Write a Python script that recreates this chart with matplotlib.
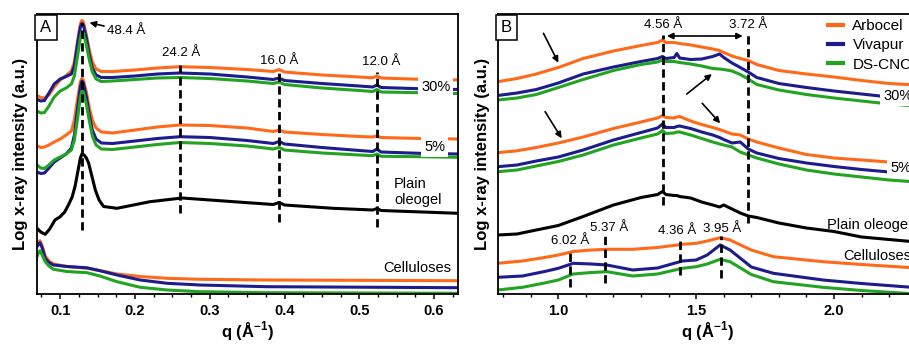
import numpy as np
import matplotlib
matplotlib.use('Agg')
import matplotlib.pyplot as plt

plt.rcParams['font.family'] = ['Liberation Sans', 'DejaVu Sans']
plt.rcParams['mathtext.fontset'] = 'custom'
plt.rcParams['mathtext.rm'] = 'Liberation Sans'
plt.rcParams['mathtext.bf'] = 'Liberation Sans:bold'

ORANGE = '#ff6a1a'
NAVY = '#1c1c8c'
GREEN = '#22a322'
names = ['Arbocel', 'Vivapur', 'DS-CNC']
colors = [ORANGE, NAVY, GREEN]

# ---------------- panel A (small angle), stacked log intensity, a.u.
qa = [0.069, 0.074, 0.079, 0.085, 0.092, 0.100, 0.108, 0.115, 0.119, 0.123,
      0.127, 0.129, 0.131, 0.135, 0.139, 0.143, 0.148, 0.155, 0.17, 0.20,
      0.23, 0.26, 0.30, 0.35, 0.385, 0.3927, 0.40, 0.45, 0.50, 0.518,
      0.5236, 0.529, 0.58, 0.632]
a30_arbocel = [198.5, 196.5, 196, 199, 207, 214, 218.5, 223, 232, 252, 270, 273.5, 272, 259, 244, 232, 225,
               222.5, 222.5, 224, 226, 227.3, 226.5, 224.5, 222.5, 224.5, 222, 219, 217, 216.2, 218, 216, 214.7, 214]
a30_vivapur = [194.5, 193, 193.5, 201, 210, 215, 217.5, 220, 228, 249, 267, 270.5, 269, 256, 239, 226, 219,
               216.5, 216.5, 218, 220, 221, 220, 217, 214.5, 216, 213.5, 210.5, 208, 207, 209, 206.5, 205.3, 204.5]
a30_dscnc = [183, 181, 181.5, 188, 197, 203, 206, 210, 218, 237, 256, 262, 261, 249, 234, 222, 215,
             212.5, 213, 214.5, 216, 216.5, 215.5, 213, 210.5, 212, 209.5, 206, 203.5, 202.5, 204.5, 202, 201.3, 200.5]
a5_arbocel = [148.3, 146.5, 147, 149, 152, 155, 159, 163, 174, 194, 212, 215.5, 214, 202, 186, 174, 166,
              162, 161, 164, 167, 169, 168.5, 166, 162.5, 164, 162, 159.5, 157.5, 157, 158, 156.5, 155.5, 155]
a5_vivapur = [122, 120.5, 121, 126, 132, 136, 140, 146, 159, 184, 207, 213, 211, 197, 179, 164, 155,
              151, 150.5, 153, 155.5, 157.3, 156.5, 153.5, 150.5, 152.5, 150, 146.5, 143.5, 142.5, 145, 142, 140.7, 140]
a5_dscnc = [129, 126, 125.5, 129, 134, 137, 140, 144, 154, 174, 197, 203, 202, 190, 173, 158, 149,
            145, 144.5, 147, 149.5, 151.5, 150.5, 148, 145, 146.5, 144, 141, 139, 138.3, 140, 137.7, 137.3, 136.7]

qa_plain = [0.069, 0.074, 0.080, 0.086, 0.093, 0.100, 0.106, 0.111, 0.116, 0.120, 0.124, 0.127, 0.129,
            0.132, 0.135, 0.138, 0.142, 0.147, 0.152, 0.158, 0.176, 0.22, 0.263, 0.332, 0.385, 0.3927,
            0.40, 0.465, 0.518, 0.5236, 0.529, 0.632]
a_plain = [65.7, 62, 59.7, 65, 74, 77.3, 82, 89, 97, 108, 124, 136, 140, 139, 136, 131, 119, 104, 94,
           87.5, 85.7, 92.3, 96, 92.3, 89.5, 91.5, 89, 85.7, 84, 85.5, 83.5, 80.7]

qa_cell = [0.069, 0.071, 0.073, 0.076, 0.080, 0.085, 0.091, 0.109, 0.136, 0.153, 0.176, 0.207, 0.243,
           0.287, 0.376, 0.632]
acell_arbocel = [49, 52, 53.3, 48, 38, 33, 30, 27.5, 25.7, 23.5, 20, 17.5, 15.7, 14.7, 14, 13.3]
acell_vivapur = [47.3, 50, 51.3, 46, 35.7, 31.5, 29, 27.5, 26.2, 23.3, 19, 14, 10.7, 9, 7.3, 6.3]
acell_dscnc = [37.3, 41.5, 43.3, 39, 32.3, 28, 24.7, 22.5, 21.3, 18, 12.3, 6.7, 4, 2.3, 1.3, 0.7]

# d-spacings (Angstrom) and dashed-line extents, panel A
a_d = [48.4, 24.2, 16.0, 12.0]
a_dash_lo = [64, 81, 72, 67]
a_dash_hi = [271, 229, 224, 222]

# ---------------- panel B (wide angle)
qb = [0.78, 0.85, 0.92, 1.0, 1.09, 1.20, 1.30, 1.36, 1.378, 1.39, 1.42, 1.43, 1.44, 1.48,
      1.52, 1.56, 1.585, 1.60, 1.63, 1.66, 1.689, 1.72, 1.80, 1.90, 2.0, 2.1, 2.2, 2.3]
b30_arbocel = [212.3, 215.5, 220, 226.5, 235.5, 243, 248.5, 251.5, 254, 251.5, 251.5, 251, 250.5, 249,
               247, 245, 243.5, 241.5, 238, 235.5, 233.5, 229.5, 223.5, 220, 217, 213.5, 210.5, 209]
b30_vivapur = [198.5, 201, 204.5, 211, 220, 227, 232.5, 235.5, 237.5, 235.5, 236.5, 240.5, 236, 234.5,
               235, 237.5, 240, 236.5, 231, 226.5, 222, 216.5, 210.5, 206.5, 203, 200, 197, 195]
b30_dscnc = [194, 196, 199.5, 206.5, 214.5, 223.5, 229.5, 232, 234, 232.5, 232.5, 232, 231.5, 230,
             228, 225.5, 225, 224.5, 223, 219.5, 215, 209.5, 204, 199.5, 196, 193, 190, 188]
b5_arbocel = [141.3, 143.2, 146.5, 151, 157, 165.5, 172, 176, 178.5, 176.5, 176, 177, 177.5, 173,
              169.5, 166.5, 164.5, 163, 160, 159, 155, 152, 146, 139.5, 136, 134, 132, 130.5]
b5_vivapur = [127.3, 129, 133, 137, 144, 154, 161.5, 166, 170, 166.5, 166.5, 167.5, 168, 165.5,
              162, 159, 156.5, 154.5, 151, 152, 145, 141, 135.5, 131, 127.5, 124.5, 122, 120]
b5_dscnc = [122.3, 124, 128, 132.5, 139, 149, 156, 160, 163.5, 160.5, 161, 162, 162, 159,
            155.5, 152, 150, 149, 147, 142, 139, 136, 130, 124, 120, 117, 114, 112]
b_plain = [59, 60, 64, 68.5, 77.5, 89, 96.5, 99.5, 102.5, 99.5, 98.5, 98.5, 97.5, 96,
           92, 89, 87, 89, 85, 81, 78, 76.5, 71, 66, 62.5, 57, 54.5, 52]

qb_cell = [0.78, 0.87, 0.95, 1.0, 1.054, 1.12, 1.176, 1.27, 1.36, 1.45, 1.50, 1.54, 1.587, 1.623,
           1.70, 1.78, 1.96, 2.1, 2.3]
bcell_arbocel = [30.7, 33, 36.5, 39, 42.5, 44, 44.7, 44.7, 46.5, 49.7, 50.7, 53, 56.3, 54, 44, 37.3, 32.3, 29.5, 26]
bcell_vivapur = [16.7, 18, 22.5, 25.7, 30.7, 30, 29, 24, 26, 33, 34, 39, 49, 44, 27, 20.7, 14, 10.5, 6.3]
bcell_dscnc = [4, 6.7, 11, 14, 20, 21.5, 22.3, 18, 20, 25.7, 27.3, 30, 34.7, 32.3, 19.5, 12.3, 6.7, 3.5, 0]

b_d = [4.56, 3.72, 6.02, 5.37, 4.36, 3.95]
b_dash_lo = [89, 71, 7, 11, 19, 16]
b_dash_hi = [259, 259, 42, 58, 57, 58]
b_lab_y = [None, None, 53, 66, 63, 65]
b_lab_x = [None, None, 1.042, 1.184, 1.43, 1.593]

fig = plt.figure(figsize=(9.09, 3.45), dpi=100)
axA = fig.add_axes([37 / 909, 51 / 345, 421 / 909, 280 / 345])
axB = fig.add_axes([497.7 / 909, 51 / 345, 419 / 909, 280 / 345])

LW = 2.2
DASH = (0, (3, 1.6))

for ax in (axA, axB):
    ax.set_ylim(0, 280)
    ax.set_yticks([])
    for s in ax.spines.values():
        s.set_linewidth(1.3)
    ax.tick_params(axis='x', which='major', direction='out', length=3.5, width=1.1, pad=4,
                   labelsize=10.5)
    ax.tick_params(axis='x', which='minor', direction='out', length=2.5, width=1.0)
    ax.set_xlabel(r'q (Å$^{\mathbf{-1}}$)', fontsize=12, fontweight='bold')
    ax.set_ylabel('Log x-ray intensity (a.u.)', fontsize=12, fontweight='bold')

# ---- panel A
for ys, c, n in zip([a30_arbocel, a30_vivapur, a30_dscnc], colors, names):
    axA.plot(qa, ys, color=c, lw=LW, label=n)
for ys, c in zip([a5_arbocel, a5_vivapur, a5_dscnc], colors):
    axA.plot(qa, ys, color=c, lw=LW)
axA.plot(qa_plain, a_plain, color='k', lw=LW)
for ys, c in zip([acell_arbocel, acell_vivapur, acell_dscnc], colors):
    axA.plot(qa_cell, ys, color=c, lw=LW)

for d, lo, hi in zip(a_d, a_dash_lo, a_dash_hi):
    axA.vlines(2 * np.pi / d, lo, hi, colors='k', linestyles=DASH, lw=2)

axA.set_xlim(0.069, 0.632)
axA.set_xticks([0.1, 0.2, 0.3, 0.4, 0.5, 0.6])
axA.set_xticks(np.arange(0.075, 0.63, 0.025), minor=True)
axA.set_xticklabels(['0.1', '0.2', '0.3', '0.4', '0.5', '0.6'], fontweight='bold')

axA.annotate('48.4 Å', xy=(0.1392, 271.3), xytext=(0.1624, 263), fontsize=9.5,
             va='center', ha='left',
             arrowprops=dict(arrowstyle='-|>', color='k', lw=1.2, mutation_scale=9,
                             shrinkA=0, shrinkB=0))
for txt, x, y in [('24.2 Å', 0.2618, 240.7), ('16.0 Å', 0.3932, 233), ('12.0 Å', 0.529, 231.7)]:
    axA.text(x, y, txt, fontsize=9.5, ha='center', va='center')

wbox = dict(boxstyle='square,pad=0.2', fc='white', ec='none')
axA.text(0.6024, 207.3, '30%', fontsize=10.5, ha='center', va='center', bbox=wbox, zorder=5)
axA.text(0.6007, 147.3, '5%', fontsize=10.5, ha='center', va='center', bbox=wbox, zorder=5)
axA.text(0.5465, 102, 'Plain\noleogel', fontsize=10.5, ha='left', va='center', linespacing=1.1)
axA.text(0.578, 26, 'Celluloses', fontsize=10.5, ha='center', va='center')
axA.text(0.0214, 0.952, 'A', transform=axA.transAxes, fontsize=12, ha='center', va='center',
         bbox=dict(boxstyle='square,pad=0.3', fc='white', ec='black', lw=1.1))

# ---- panel B
lines = []
for ys, c, n in zip([b30_arbocel, b30_vivapur, b30_dscnc], colors, names):
    lines += axB.plot(qb, ys, color=c, lw=LW, label=n)
for ys, c in zip([b5_arbocel, b5_vivapur, b5_dscnc], colors):
    axB.plot(qb, ys, color=c, lw=LW)
axB.plot(qb, b_plain, color='k', lw=LW)
for ys, c in zip([bcell_arbocel, bcell_vivapur, bcell_dscnc], colors):
    axB.plot(qb_cell, ys, color=c, lw=LW)

for d, lo, hi, lx, ly in zip(b_d, b_dash_lo, b_dash_hi, b_lab_x, b_lab_y):
    axB.vlines(2 * np.pi / d, lo, hi, colors='k', linestyles=DASH, lw=2)
    if lx is not None:
        axB.text(lx, ly, f'{d:.2f} Å', fontsize=9.5, ha='center', va='center')
axB.text(1.381, 269, '4.56 Å', fontsize=9.5, ha='center', va='center')
axB.text(1.689, 269, '3.72 Å', fontsize=9.5, ha='center', va='center')
axB.annotate('', xy=(1.669, 258), xytext=(1.394, 258),
             arrowprops=dict(arrowstyle='<|-|>', color='k', lw=1.2, mutation_scale=9,
                             shrinkA=0, shrinkB=0))
for (x0, y0), (x1, y1) in [((0.946, 260.7), (1.0, 231.3)), ((0.952, 182.3), (1.012, 155.7)),
                           ((1.466, 200), (1.557, 220)), ((1.522, 190.7), (1.587, 170.7))]:
    axB.annotate('', xy=(x1, y1), xytext=(x0, y0),
                 arrowprops=dict(arrowstyle='-|>', color='k', lw=1.2, mutation_scale=9,
                                 shrinkA=0, shrinkB=0))

axB.set_xlim(0.78, 2.30)
axB.set_xticks([1.0, 1.5, 2.0])
axB.set_xticks(np.arange(0.8, 2.31, 0.1), minor=True)
axB.set_xticklabels(['1.0', '1.5', '2.0'], fontweight='bold')

axB.text(2.178, 198.3, '30%', fontsize=10.5, ha='left', va='center', bbox=wbox, zorder=5)
axB.text(2.2035, 126, '5%', fontsize=10.5, ha='left', va='center', bbox=wbox, zorder=5)
axB.text(1.974, 69, 'Plain oleogel', fontsize=10.5, ha='left', va='center')
axB.text(2.034, 38, 'Celluloses', fontsize=10.5, ha='left', va='center')
axB.text(0.0214, 0.952, 'B', transform=axB.transAxes, fontsize=12, ha='center', va='center',
         bbox=dict(boxstyle='square,pad=0.3', fc='white', ec='black', lw=1.1))

leg = axB.legend(handles=lines, loc='upper left', bbox_to_anchor=(828 / 909, 326 / 345),
                 bbox_transform=fig.transFigure, frameon=False, fontsize=11,
                 handlelength=1.0, handletextpad=0.6, labelspacing=0.35,
                 borderpad=0, borderaxespad=0)
for h in leg.legend_handles:
    h.set_linewidth(3)

axA.yaxis.set_label_coords(-0.021, 0.5)
axB.yaxis.set_label_coords(-0.018, 0.5)
axA.xaxis.set_label_coords(0.5, -0.09)
axB.xaxis.set_label_coords(0.5, -0.09)

fig.savefig('out.png', dpi=100)
